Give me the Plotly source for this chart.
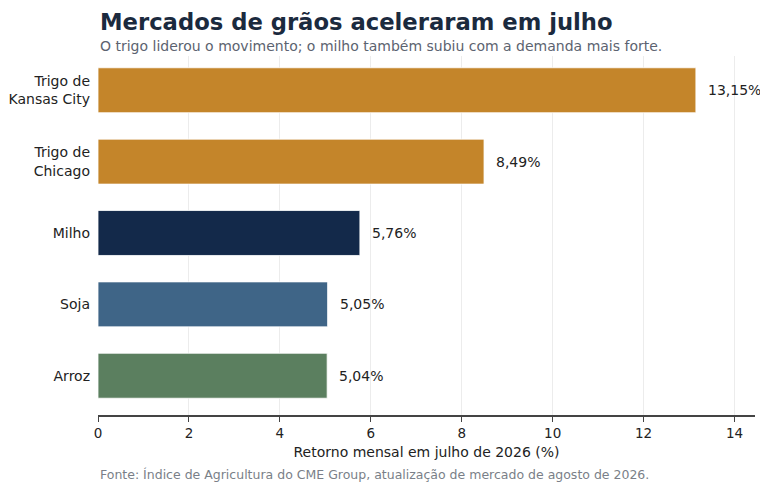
import plotly.graph_objects as go

categories = ["Trigo de<br>Kansas City", "Trigo de<br>Chicago", "Milho", "Soja", "Arroz"]
values = [13.15, 8.49, 5.76, 5.05, 5.04]
labels = ["13,15%", "8,49%", "5,76%", "5,05%", "5,04%"]
colors = ["#C4852A", "#C4852A", "#13294A", "#3F6587", "#5B7F5F"]
x_ticks = [0, 2, 4, 6, 8, 10, 12, 14]

FONT = "DejaVu Sans"

fig = go.Figure()
fig.add_trace(go.Bar(
    x=values, y=categories, orientation="h",
    marker=dict(color=colors, line=dict(color="rgba(255,255,255,0.8)", width=1)),
    width=0.63, hoverinfo="skip",
))

for v, c, t in zip(values, categories, labels):
    fig.add_annotation(x=v, y=c, text=t, showarrow=False, xanchor="left",
                       xshift=10, font=dict(family=FONT, size=14, color="#222222"))

fig.update_layout(
    width=760, height=482,
    margin=dict(l=90, r=13, t=48, b=75, autoexpand=False),
    paper_bgcolor="white", plot_bgcolor="white",
    showlegend=False,
    font=dict(family=FONT, color="#222222"),
)
fig.update_xaxes(
    range=[0, 14.45], tickvals=x_ticks, ticktext=[str(t) for t in x_ticks],
    showgrid=True, gridcolor="#ececec", gridwidth=1,
    showline=True, linecolor="#444444", linewidth=1.5,
    ticks="outside", ticklen=5, tickcolor="#444444",
    tickfont=dict(family=FONT, size=13.5, color="#222222"),
    title=dict(text="Retorno mensal em julho de 2026 (%)", font=dict(family=FONT, size=14, color="#222222"), standoff=7),
    zeroline=False, automargin=False,
)
fig.update_yaxes(
    categoryorder="array", categoryarray=categories,
    range=[4.55, -0.48], showgrid=False, ticks="", showline=False,
    tickfont=dict(family=FONT, size=14, color="#222222"), ticklabelstandoff=7,
    automargin=False,
)

fig.add_annotation(xref="paper", yref="paper", x=0, y=1, yshift=34, xanchor="left", yanchor="middle",
                   text="<b>Mercados de grãos aceleraram em julho</b>", showarrow=False,
                   font=dict(family=FONT, size=22.7, color="#1B2A3E"))
fig.add_annotation(xref="paper", yref="paper", x=0, y=1, yshift=10, xanchor="left", yanchor="middle",
                   text="O trigo liderou o movimento; o milho também subiu com a demanda mais forte.",
                   showarrow=False, font=dict(family=FONT, size=14, color="#5C6370"))
fig.add_annotation(xref="paper", yref="paper", x=0, y=0, yshift=-59, xanchor="left", yanchor="middle",
                   text="Fonte: Índice de Agricultura do CME Group, atualização de mercado de agosto de 2026.",
                   showarrow=False, font=dict(family=FONT, size=12.5, color="#7A7F88"))

fig.write_html("out.html")
